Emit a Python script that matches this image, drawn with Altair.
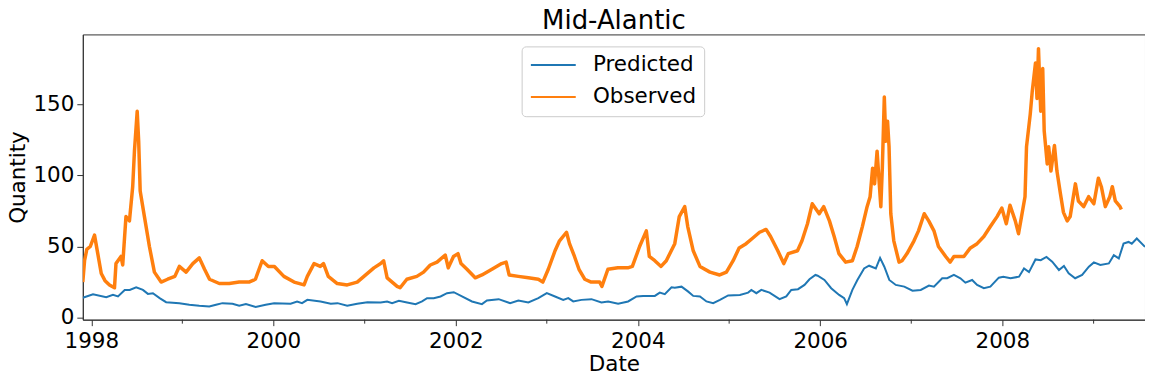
import altair as alt
import pandas as pd

# ---- data ----
obs_dates = [
    "1997-11-28", "1997-12-05", "1997-12-14", "1997-12-28", "1998-01-14", "1998-01-27", "1998-02-10",
    "1998-02-25", "1998-03-15", "1998-04-04", "1998-04-10", "1998-04-30", "1998-05-07", "1998-05-20",
    "1998-06-03", "1998-06-16", "1998-06-23", "1998-07-04", "1998-07-10", "1998-07-16", "1998-08-02",
    "1998-08-22", "1998-09-11", "1998-10-08", "1998-11-03", "1998-12-02", "1998-12-20", "1999-01-16",
    "1999-02-12", "1999-03-10", "1999-03-31", "1999-04-20", "1999-05-29", "1999-07-08", "1999-08-17",
    "1999-09-25", "1999-10-21", "1999-11-17", "1999-12-12", "2000-01-05", "2000-02-12", "2000-03-24",
    "2000-05-03", "2000-05-16", "2000-06-12", "2000-07-07", "2000-07-20", "2000-08-08", "2000-09-13",
    "2000-10-23", "2000-12-02", "2000-12-29", "2001-02-07", "2001-03-06", "2001-03-18", "2001-04-01",
    "2001-05-11", "2001-05-23", "2001-06-19", "2001-07-29", "2001-08-25", "2001-09-21", "2001-10-18",
    "2001-11-20", "2001-12-02", "2001-12-23", "2002-01-10", "2002-01-22", "2002-02-15", "2002-03-20",
    "2002-04-16", "2002-05-26", "2002-07-04", "2002-07-22", "2002-08-03", "2002-09-09", "2002-10-19",
    "2002-11-28", "2002-12-16", "2003-01-07", "2003-02-03", "2003-02-21", "2003-03-21", "2003-04-02",
    "2003-04-22", "2003-05-10", "2003-06-02", "2003-06-28", "2003-08-01", "2003-08-10", "2003-09-03",
    "2003-10-13", "2003-11-22", "2003-12-10", "2004-01-08", "2004-02-04", "2004-02-16", "2004-03-09",
    "2004-04-03", "2004-04-24", "2004-05-28", "2004-06-15", "2004-07-07", "2004-07-19", "2004-08-10",
    "2004-09-06", "2004-10-16", "2004-11-24", "2004-12-21", "2005-01-17", "2005-02-10", "2005-03-10",
    "2005-04-06", "2005-05-03", "2005-05-29", "2005-06-16", "2005-07-15", "2005-08-08", "2005-08-26",
    "2005-10-02", "2005-10-20", "2005-11-11", "2005-11-30", "2005-12-28", "2006-01-15", "2006-02-07",
    "2006-02-26", "2006-03-17", "2006-04-13", "2006-05-10", "2006-05-29", "2006-06-19", "2006-07-08",
    "2006-07-20", "2006-07-30", "2006-08-07", "2006-08-17", "2006-09-01", "2006-09-07", "2006-09-15",
    "2006-09-21", "2006-09-28", "2006-10-04", "2006-10-11", "2006-10-23", "2006-11-13", "2006-11-25",
    "2006-12-15", "2007-01-12", "2007-01-30", "2007-02-22", "2007-03-12", "2007-04-02", "2007-04-20",
    "2007-05-19", "2007-06-06", "2007-06-21", "2007-07-31", "2007-08-26", "2007-09-22", "2007-10-19",
    "2007-11-14", "2007-12-11", "2007-12-30", "2008-01-17", "2008-02-01", "2008-02-22", "2008-03-06",
    "2008-03-18", "2008-04-01", "2008-04-07", "2008-04-22", "2008-04-30", "2008-05-13", "2008-05-19",
    "2008-05-25", "2008-06-03", "2008-06-11", "2008-06-17", "2008-06-29", "2008-07-05", "2008-07-14",
    "2008-07-28", "2008-08-07", "2008-08-21", "2008-09-02", "2008-09-17", "2008-09-29", "2008-10-20",
    "2008-11-01", "2008-11-22", "2008-12-12", "2009-01-02", "2009-01-20", "2009-02-01", "2009-02-17",
    "2009-03-07", "2009-03-17", "2009-03-29", "2009-04-17", "2009-04-22",
]
obs_values = [
    25, 40, 48, 50, 58, 45, 31,
    26, 23, 21, 38, 43, 37, 71,
    68, 92, 117, 145, 124, 89, 71,
    50, 32, 25, 27, 29, 36, 32,
    38, 42, 34, 27, 24, 24, 25,
    25, 27, 40, 36, 36, 29, 25,
    23, 29, 38, 36, 38, 29, 24,
    23, 25, 29, 35, 38, 40, 28,
    22, 21, 27, 29, 32, 37, 39,
    44, 35, 43, 45, 38, 34, 28,
    30, 34, 38, 39, 30, 29, 28,
    27, 25, 34, 47, 54, 60, 52,
    43, 34, 27, 25, 25, 22, 34,
    35, 35, 36, 50, 61, 43, 40,
    36, 40, 52, 71, 78, 64, 47,
    36, 32, 30, 32, 40, 49, 52,
    56, 60, 62, 57, 47, 38, 45,
    47, 54, 66, 80, 73, 78, 68,
    57, 45, 39, 40, 50, 64, 78,
    85, 105, 94, 117, 78, 105, 155,
    124, 138, 120, 73, 54, 39, 40,
    45, 54, 61, 73, 68, 61, 50,
    43, 39, 43, 43, 49, 52, 57,
    64, 71, 77, 66, 79, 68, 59,
    71, 85, 120, 143, 159, 179, 154,
    189, 145, 175, 131, 108, 120, 103,
    121, 103, 87, 74, 68, 71, 94,
    82, 78, 85, 80, 98, 92, 78,
    85, 92, 82, 78, 76,
]

pred_dates = [
    "1997-11-28", "1998-01-08", "1998-03-02", "1998-03-29", "1998-04-18", "1998-05-15", "1998-06-04",
    "1998-06-30", "1998-07-27", "1998-08-16", "1998-09-05", "1998-10-02", "1998-10-28", "1998-12-20",
    "1999-01-29", "1999-03-10", "1999-04-19", "1999-05-16", "1999-06-11", "1999-07-21", "1999-08-17",
    "1999-09-13", "1999-10-22", "1999-12-01", "2000-01-04", "2000-03-10", "2000-04-05", "2000-04-25",
    "2000-05-16", "2000-07-08", "2000-08-18", "2000-09-14", "2000-10-23", "2000-12-02", "2001-01-12",
    "2001-03-06", "2001-04-01", "2001-04-21", "2001-05-18", "2001-06-20", "2001-07-24", "2001-08-19",
    "2001-09-08", "2001-10-05", "2001-11-01", "2001-11-27", "2001-12-24", "2002-01-26", "2002-03-07",
    "2002-04-16", "2002-05-06", "2002-06-22", "2002-08-07", "2002-09-09", "2002-10-19", "2002-11-28",
    "2003-01-01", "2003-02-03", "2003-03-08", "2003-03-28", "2003-04-17", "2003-05-20", "2003-06-29",
    "2003-08-08", "2003-09-04", "2003-10-14", "2003-11-23", "2003-12-27", "2004-01-22", "2004-03-09",
    "2004-03-29", "2004-04-18", "2004-05-15", "2004-05-28", "2004-06-24", "2004-07-21", "2004-08-10",
    "2004-09-06", "2004-10-02", "2004-10-29", "2004-11-25", "2004-12-28", "2005-02-13", "2005-03-18",
    "2005-03-31", "2005-04-20", "2005-05-10", "2005-06-12", "2005-07-22", "2005-08-18", "2005-09-07",
    "2005-10-04", "2005-10-30", "2005-11-19", "2005-12-13", "2005-12-22", "2006-01-18", "2006-02-14",
    "2006-03-18", "2006-04-07", "2006-04-18", "2006-05-10", "2006-05-30", "2006-06-26", "2006-07-16",
    "2006-08-12", "2006-08-29", "2006-09-15", "2006-10-05", "2006-10-31", "2006-12-04", "2007-01-06",
    "2007-02-08", "2007-03-13", "2007-04-02", "2007-05-05", "2007-05-25", "2007-06-21", "2007-07-17",
    "2007-08-06", "2007-09-02", "2007-09-22", "2007-10-19", "2007-11-14", "2007-12-18", "2008-01-05",
    "2008-02-03", "2008-03-08", "2008-03-28", "2008-04-17", "2008-05-13", "2008-06-03", "2008-06-26",
    "2008-07-19", "2008-08-15", "2008-09-04", "2008-09-23", "2008-10-19", "2008-11-16", "2008-12-13",
    "2009-01-02", "2009-01-28", "2009-03-03", "2009-03-23", "2009-04-12", "2009-05-01", "2009-05-21",
    "2009-06-03", "2009-06-23", "2009-07-26",
]
pred_values = [
    14, 16.5, 14.4, 16, 14.9, 19.5, 19.5,
    21.4, 19.5, 16.7, 17.2, 13.7, 10.9, 10.2,
    9.1, 8.4, 7.9, 9.1, 10.2, 9.8, 8.4,
    9.5, 7.5, 9.1, 10.2, 9.8, 11.4, 10.2,
    12.5, 11.4, 9.8, 10.2, 8.4, 9.8, 10.9,
    10.7, 11.4, 10.2, 11.9, 10.7, 9.5, 11.4,
    13.7, 13.7, 14.9, 17.2, 17.9, 14.9, 11.4,
    9.5, 12.1, 13.0, 10.2, 12.1, 10.7, 13.7,
    17.2, 14.9, 12.5, 13.7, 11.4, 12.5, 13.0,
    10.7, 11.4, 9.8, 11.4, 14.9, 15.3, 15.3,
    17.6, 16.5, 21.4, 21.1, 21.8, 18.3, 15.3,
    14.9, 11.4, 10.2, 12.5, 15.6, 16.0, 17.6,
    19.5, 17.2, 19.5, 17.6, 13.0, 14.9, 19.5,
    20.0, 23.0, 27.0, 30.0, 29.5, 26.5, 20.7,
    16.0, 13.7, 9.5, 19.5, 26.5, 34.6, 36.5,
    34.6, 42.0, 35.8, 26.5, 23.0, 21.8, 19.0,
    19.5, 22.5, 21.8, 27.7, 27.7, 30.0, 27.7,
    24.6, 26.5, 23.0, 20.7, 21.8, 28.1, 28.8,
    27.7, 28.8, 34.6, 32.0, 40.9, 40.4, 42.7,
    39.3, 33.5, 36.3, 31.2, 27.7, 30.0, 35.8,
    38.8, 37.0, 38.1, 43.9, 41.6, 52.0, 53.2,
    52.0, 55.6, 49.7,
]

series_names = ["Predicted", "Observed"]
series_colors = ["#1f77b4", "#ff7f0e"]
major_years = [1998, 2000, 2002, 2004, 2006, 2008]
minor_years = [1999, 2001, 2003, 2005, 2007, 2009]
y_ticks = [0, 50, 100, 150]

pred_df = pd.DataFrame({"Date": pred_dates, "Quantity": pred_values, "Series": "Predicted"})
obs_df = pd.DataFrame({"Date": obs_dates, "Quantity": obs_values, "Series": "Observed"})
minor_df = pd.DataFrame({"Date": [f"{y}-01-01T00:00:00" for y in minor_years]})

FS = 21.5
W, H = 1065, 286
x_scale = alt.Scale(
    domain=[alt.DateTime(year=1997, month=11, date=28), alt.DateTime(year=2009, month=7, date=26)],
    nice=False,
)
y_scale = alt.Scale(domain=[-1.4, 199], nice=False, zero=False)

x_enc = alt.X(
    "Date:T",
    scale=x_scale,
    axis=alt.Axis(
        title="Date",
        values=[alt.DateTime(year=y, month=1, date=1) for y in major_years],
        format="%Y",
        labelFontSize=FS,
        titleFontSize=FS,
        tickSize=6,
        labelPadding=5,
        titlePadding=1,
        labelFlush=False,
    ),
)
y_enc = alt.Y(
    "Quantity:Q",
    scale=y_scale,
    axis=alt.Axis(
        title="Quantity",
        values=y_ticks,
        labelFontSize=FS,
        titleFontSize=FS,
        tickSize=6,
        labelPadding=3,
        titlePadding=3,
    ),
)
color_enc = alt.Color(
    "Series:N",
    scale=alt.Scale(domain=series_names, range=series_colors),
    legend=alt.Legend(
        title=None,
        orient="none",
        legendX=440,
        legendY=12,
        symbolType="M-2.5,0H2.5",
        symbolSize=324,
        symbolStrokeWidth=2,
        symbolOffset=13,
        labelFontSize=FS,
        labelOffset=29,
        rowPadding=9,
        padding=8,
        strokeColor="#cccccc",
        fillColor="white",
        cornerRadius=4,
    ),
)

pred_line = alt.Chart(pred_df).mark_line(strokeWidth=2, clip=True).encode(
    x=x_enc, y=y_enc, color=color_enc
)
obs_line = alt.Chart(obs_df).mark_line(strokeWidth=3.5, strokeJoin="round", clip=True).encode(
    x=x_enc, y=y_enc, color=color_enc
)

minor = alt.Chart(minor_df).mark_rule(color="#333333", strokeWidth=1).encode(
    x=alt.X("Date:T", scale=x_scale),
    y=alt.value(H),
    y2=alt.value(H + 4),
)

chart = alt.layer(pred_line, obs_line, minor).properties(
    width=W,
    height=H,
    title=alt.TitleParams("Mid-Alantic", fontSize=26, fontWeight="normal", offset=0),
    autosize=alt.AutoSizeParams(type="none"),
    padding={"left": 75, "top": 26, "right": 0, "bottom": 55},
).configure(
    font="DejaVu Sans",
).configure_axis(
    domainColor="#333333",
    tickColor="#333333",
    labelColor="#000000",
    titleColor="#000000",
    grid=False,
    titleFontWeight="normal",
).configure_view(
    stroke="#333333",
    strokeWidth=1,
).configure_title(
    color="#000000",
)

chart.save("out.html", embed_options={"renderer": "svg", "actions": False})
